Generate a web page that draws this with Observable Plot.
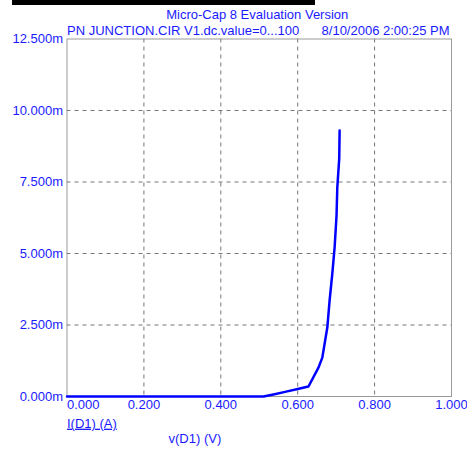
<!DOCTYPE html>
<html>
<head>
<meta charset="utf-8">
<script src="https://cdn.jsdelivr.net/npm/d3@7"></script>
<script src="https://cdn.jsdelivr.net/npm/@observablehq/plot@0.6"></script>
<style>
  html, body { margin: 0; padding: 0; background: #fff; }
  #wrap { position: relative; width: 467px; height: 449px; }
  #bar { position: absolute; left: 12px; top: 0; width: 303px; height: 5px; background: #000; }
</style>
</head>
<body>
<div id="wrap"><div id="bar"></div></div>
<script>
// Diode forward bias sweep: voltage across D1 (V) and current through D1 (mA)
const vD1 = [0.000, 0.100, 0.200, 0.300, 0.400, 0.500, 0.511, 0.540, 0.570, 0.600, 0.628, 0.654, 0.664, 0.677, 0.683, 0.690, 0.696, 0.701, 0.703, 0.708, 0.709];
const iD1 = [0.000, 0.000, 0.000, 0.000, 0.000, 0.000, 0.000, 0.080, 0.170, 0.260, 0.350, 1.010, 1.360, 2.410, 3.360, 4.300, 5.210, 6.330, 7.310, 8.320, 9.300];

const xTicks = [0.0, 0.2, 0.4, 0.6, 0.8, 1.0];
const yTicks = [0, 2.5, 5, 7.5, 10, 12.5];

const titleText = "Micro-Cap 8 Evaluation Version";
const circuitText = "PN JUNCTION.CIR V1.dc.value=0...100";
const dateText = "8/10/2006 2:00:25 PM";
const yLabel = "I(D1) (A)";
const xLabel = "v(D1) (V)";

const data = vD1.map((v, i) => ({v, i: iD1[i]}));

const blue = "#1a1aff";
const font = "Liberation Sans, Arial, sans-serif";
const label = {fill: blue, lineAnchor: "middle", text: d => d};

const chart = Plot.plot({
  width: 467,
  height: 449,
  marginLeft: 66.5,
  marginRight: 16,
  marginTop: 38.5,
  marginBottom: 53,
  style: {fontFamily: font, fontSize: "13px", background: "#fff"},
  x: {domain: [0, 1]},
  y: {domain: [0, 12.5]},
  marks: [
    Plot.gridX(xTicks.slice(1, -1), {stroke: "#777", strokeOpacity: 1, strokeDasharray: "4,4"}),
    Plot.gridY(yTicks.slice(1, -1), {stroke: "#777", strokeOpacity: 1, strokeDasharray: "4,4"}),
    Plot.frame({stroke: "#999"}),
    Plot.axisY(yTicks, {
      tickSize: 0, tickPadding: 4, fill: blue,
      tickFormat: d => d.toFixed(3) + "m", label: null
    }),
    Plot.axisX(xTicks.slice(0, 1), {
      tickSize: 0, tickPadding: 3, fill: blue, textAnchor: "start",
      tickFormat: d => d.toFixed(3), label: null
    }),
    Plot.axisX(xTicks.slice(1), {
      tickSize: 0, tickPadding: 3, fill: blue,
      tickFormat: d => d.toFixed(3), label: null
    }),
    Plot.line(data, {x: "v", y: "i", stroke: "#0000ff", strokeWidth: 2.5}),
    Plot.text([titleText], {...label, frameAnchor: "top", dx: -2, dy: -24.5}),
    Plot.text([circuitText], {...label, frameAnchor: "top-left", textAnchor: "start", dy: -8}),
    Plot.text([dateText], {...label, frameAnchor: "top-right", textAnchor: "end", dx: -2, dy: -8}),
    Plot.text([yLabel], {...label, frameAnchor: "bottom-left", textAnchor: "start", dy: 27}),
    Plot.text([xLabel], {...label, frameAnchor: "bottom-left", textAnchor: "start", dx: 101.5, dy: 42})
  ]
});

// underline the current label, as in the probe legend
d3.select(chart).selectAll("text").filter(function() { return this.textContent === yLabel; })
  .style("text-decoration", "underline");

document.getElementById("wrap").appendChild(chart);
chart.style.position = "absolute";
chart.style.left = "0";
chart.style.top = "0";
document.getElementById("bar").style.zIndex = 1;
</script>
</body>
</html>
